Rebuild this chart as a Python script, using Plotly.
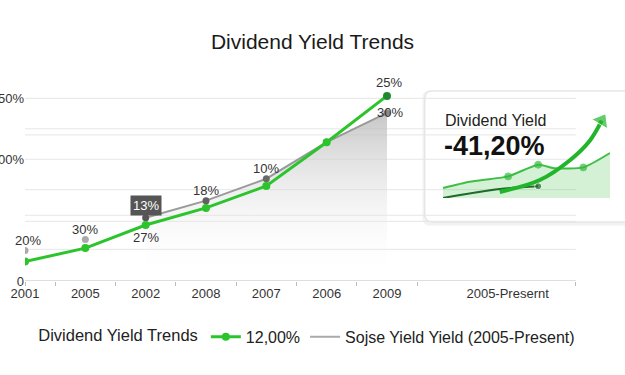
import plotly.graph_objects as go

# ---- data ----
years = ["2001", "2005", "2002", "2008", "2007", "2006", "2009"]
extra_label = "2005-Presernt"
green_vals = [16, 27, 46, 60, 78, 114, 152]
gray_vals = [25, 34, 52, 66, 84, 114, 138]
gray_labels = ["20%", "30%", "13%", "18%", "10%", "", "30%"]
green_labels = ["", "", "27%", "", "", "", "25%"]
y_tickvals = [0, 100, 150]
y_ticktext = ["0", "100%", "150%"]
grid_vals = [150, 125, 120, 100, 75, 54, 49, 26]

mini_x_upper = [0, 1.6, 3.9, 5.7, 6.7, 8.4, 10]
mini_y_upper = [1.1, 1.8, 2.4, 3.7, 3.3, 3.4, 5.0]
mini_x_dark = [0, 3.4, 5.7]
mini_y_dark = [0, 1.0, 1.3]
mini_x_arrow = [3.4, 5.8, 7.6, 8.8, 9.5]
mini_y_arrow = [0.67, 2.0, 4.2, 6.4, 8.6]
inset_title = "Dividend Yield"
inset_value = "-41,20%"

GREEN = "#2cc42c"
FONT = "Liberation Sans, Arial, sans-serif"

xi = list(range(len(years)))
x_end = 9.13

fig = go.Figure()

# gray line with gradient fill (from 2002 on)
fig.add_trace(go.Scatter(
    x=xi[2:], y=gray_vals[2:], mode="lines+markers",
    line=dict(color="#9a9a9a", width=2),
    marker=dict(size=7, color=["#555555", "#606060", "#6a6a6a", "#999999", "#8a8a8a"]),
    fill="tozeroy",
    fillgradient=dict(type="vertical",
                      colorscale=[[0, "rgba(255,255,255,0)"], [1, "rgba(185,185,185,0.8)"]]),
    showlegend=False, hoverinfo="skip"))
# unconnected gray dots 2001/2005
fig.add_trace(go.Scatter(
    x=xi[:2], y=gray_vals[:2], mode="markers",
    marker=dict(size=7, color="#aaaaaa"), showlegend=False, hoverinfo="skip"))
# green line
fig.add_trace(go.Scatter(
    x=xi, y=green_vals, mode="lines+markers", name="12,00%",
    line=dict(color=GREEN, width=3),
    marker=dict(size=8, color=[GREEN] * 6 + ["#1d8a2d"]),
    legendrank=1))
# legend-only gray entry
fig.add_trace(go.Scatter(
    x=[None], y=[None], mode="lines", name="Sojse Yield Yield (2005-Present)",
    line=dict(color="#aaaaaa", width=2), legendrank=2))

# ---- inset mini chart ----
fig.add_trace(go.Scatter(
    x=mini_x_upper, y=mini_y_upper, mode="lines+markers", xaxis="x2", yaxis="y2",
    line=dict(color="#3dbf45", width=2, shape="spline", smoothing=0.6),
    marker=dict(size=[0, 0, 7, 7, 0, 7, 0], color="#34b83c"),
    fill="tozeroy", fillcolor="rgba(60,190,70,0.22)",
    showlegend=False, hoverinfo="skip"))
fig.add_trace(go.Scatter(
    x=mini_x_dark, y=mini_y_dark, mode="lines+markers", xaxis="x2", yaxis="y2",
    line=dict(color="#1f6b2a", width=2, shape="spline"),
    marker=dict(size=[0, 0, 7], color="#1f6b2a"),
    showlegend=False, hoverinfo="skip"))
fig.add_trace(go.Scatter(
    x=mini_x_arrow, y=mini_y_arrow, mode="lines+markers", xaxis="x2", yaxis="y2",
    line=dict(color="#22b52a", width=4, shape="spline"),
    marker=dict(size=[0, 0, 0, 0, 16], symbol="triangle-up", angleref="previous",
                color="#22b52a"),
    showlegend=False, hoverinfo="skip"))

# ---- shapes ----
shapes = []
for gv in grid_vals:
    shapes.append(dict(type="line", xref="x", yref="y", x0=0, x1=x_end, y0=gv, y1=gv,
                       line=dict(color="#e6e6e6", width=1), layer="below"))
shapes.append(dict(type="line", xref="x", yref="y", x0=0, x1=x_end, y0=0, y1=0,
                   line=dict(color="#bdbdbd", width=1), layer="below"))


def rounded(x0, y0, x1, y1, rx, ry):
    return (f"M {x0+rx},{y0} L {x1-rx},{y0} Q {x1},{y0} {x1},{y0+ry} "
            f"L {x1},{y1-ry} Q {x1},{y1} {x1-rx},{y1} L {x0+rx},{y1} "
            f"Q {x0},{y1} {x0},{y1-ry} L {x0},{y0+ry} Q {x0},{y0} {x0+rx},{y0} Z")


bx0, bx1, by0, by1 = 0.672, 1.03, 0.285, 0.918
rx, ry = 8 / 595, 8 / 207
shapes.append(dict(type="path", xref="paper", yref="paper",
                   path=rounded(bx0 - 0.004, by0 - 0.018, bx1, by1 + 0.004, rx, ry),
                   fillcolor="rgba(0,0,0,0.05)", line=dict(width=0), layer="below"))
shapes.append(dict(type="path", xref="paper", yref="paper",
                   path=rounded(bx0, by0, bx1, by1, rx, ry),
                   fillcolor="white", line=dict(color="#dddddd", width=1), layer="below"))

# ---- annotations ----
ann = []
for i, t in enumerate(gray_labels):
    if not t:
        continue
    if t == "13%":
        ann.append(dict(x=xi[i], y=gray_vals[i], text=t, showarrow=False, yshift=12,
                        font=dict(size=13, color="white", family=FONT),
                        bgcolor="#555555", borderpad=2))
    elif i == 6:
        ann.append(dict(x=xi[i], y=gray_vals[i], text=t, showarrow=False, xshift=3,
                        font=dict(size=13, color="#333", family=FONT)))
    else:
        ann.append(dict(x=xi[i], y=gray_vals[i], text=t, showarrow=False, yshift=10,
                        xshift=3 if i == 0 else 0,
                        font=dict(size=13, color="#333", family=FONT)))
for i, t in enumerate(green_labels):
    if not t:
        continue
    ann.append(dict(x=xi[i], y=green_vals[i], text=t, showarrow=False,
                    yshift=-13 if i == 2 else 13, xshift=0 if i == 2 else 2,
                    font=dict(size=13, color="#333", family=FONT)))
ann.append(dict(xref="paper", yref="paper", x=0.7025, y=0.773, xanchor="left",
                yanchor="middle", text=inset_title, showarrow=False,
                font=dict(size=16, color="#222", family=FONT)))
ann.append(dict(xref="paper", yref="paper", x=0.7005, y=0.652, xanchor="left",
                yanchor="middle", text=f"<b>{inset_value}</b>", showarrow=False,
                font=dict(size=27, color="#111", family=FONT)))

fig.update_layout(
    width=625, height=375,
    margin=dict(l=25, r=5, t=74, b=94, autoexpand=False),
    paper_bgcolor="white", plot_bgcolor="rgba(0,0,0,0)",
    font=dict(family=FONT, color="#333"),
    title=dict(text="Dividend Yield Trends", x=0.5, xref="container", xanchor="center",
               y=0.888, yanchor="middle", automargin=False,
               font=dict(size=21, color="#1a1a1a", family=FONT)),
    xaxis=dict(range=[0, 595 / 60.33], tickmode="array",
               tickvals=xi + [8], ticktext=years + [extra_label],
               showgrid=False, zeroline=False, showline=False, ticks="", automargin=False,
               ticklabelstandoff=3,
               tickfont=dict(size=13, color="#333"),
               minor=dict(tickmode="array",
                          tickvals=[0, 0.5, 1.5, 2.5, 3.5, 4.5, 5.5, 6.5, x_end],
                          ticks="outside", ticklen=4, tickcolor="#bbbbbb", showgrid=False)),
    yaxis=dict(range=[0, 170], tickmode="array", tickvals=y_tickvals, ticktext=y_ticktext,
               showgrid=False, zeroline=False, showline=False, ticks="", automargin=False,
               tickfont=dict(size=13, color="#333")),
    xaxis2=dict(domain=[0.7025, 0.9832], range=[0, 10], anchor="y2", visible=False),
    yaxis2=dict(domain=[0.401, 0.814], range=[0, 9.5], anchor="x2", visible=False),
    shapes=shapes, annotations=ann,
    legend=dict(orientation="h", x=0.476, xanchor="center", y=-0.27, yanchor="middle",
                title=dict(text="Dividend Yield Trends", side="left",
                           font=dict(size=16.5, color="#222")),
                font=dict(size=16, color="#222"), itemwidth=30,
                bgcolor="rgba(0,0,0,0)"),
    hovermode=False,
)

fig.write_html("out.html", config={"displayModeBar": False},
               post_script="document.body.style.margin='0';")
